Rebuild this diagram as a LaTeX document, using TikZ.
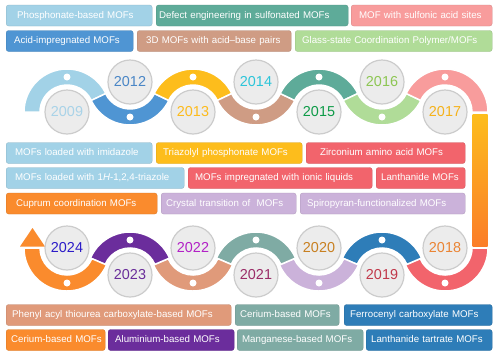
\documentclass[tikz,border=0pt]{standalone}
\usepackage{fontspec}
\setmainfont{Liberation Sans}
\usetikzlibrary{shapes,arrows}

% ring / box colours
\definecolor{c09}{HTML}{A2D2E7}
\definecolor{c12}{HTML}{4F95D3}
\definecolor{c13}{HTML}{FDBD1C}
\definecolor{c14}{HTML}{CF9C84}
\definecolor{c15}{HTML}{5EAB99}
\definecolor{c16}{HTML}{B0DC98}
\definecolor{c17}{HTML}{F89C9C}
\definecolor{c18}{HTML}{F2646C}
\definecolor{c19}{HTML}{2E7DB8}
\definecolor{c20}{HTML}{CBB2DA}
\definecolor{c21}{HTML}{7FABA4}
\definecolor{c22}{HTML}{E09A7A}
\definecolor{c23}{HTML}{6B2D9C}
\definecolor{c24}{HTML}{FA8B2D}
% year text colours
\definecolor{t09}{HTML}{A9D3E8}
\definecolor{t12}{HTML}{4A86C6}
\definecolor{t13}{HTML}{FDBB1C}
\definecolor{t14}{HTML}{2CC5D9}
\definecolor{t15}{HTML}{0E9B48}
\definecolor{t16}{HTML}{8DC653}
\definecolor{t17}{HTML}{F5B21B}
\definecolor{t18}{HTML}{EA8434}
\definecolor{t19}{HTML}{C1394B}
\definecolor{t20}{HTML}{C88021}
\definecolor{t21}{HTML}{9B2D68}
\definecolor{t22}{HTML}{B221C6}
\definecolor{t23}{HTML}{6A2E9A}
\definecolor{t24}{HTML}{2C1CC8}

\newcommand{\boxfont}{\fontsize{9.7}{11}\selectfont}
\newcommand{\yearfont}{\fontsize{14.4}{16}\selectfont}

\begin{document}
\begin{tikzpicture}[x=1pt,y=1pt,
    box/.style n args={3}{anchor=west, rounded corners=2.5pt, fill=#1, draw=#1!85!black,
        line width=0.3pt, text=white, font=\boxfont, inner xsep=0pt, inner ysep=0pt,
        text width=#3, minimum height=21pt, align=left, text height=7pt, text depth=2pt,
        execute at begin node={\hspace*{#2}}},
    year/.style={circle, fill=gray!15, draw=gray!40, line width=1.2pt,
        minimum size=44pt, inner sep=0pt, font=\yearfont},
    ring/.style={draw=white, line width=1.5pt}]

    % Frame:
    \useasboundingbox[fill=white] (0,0) rectangle (500,-362);

    % Labels, top two rows:
    \node[box={c09}{11pt}{146pt}] (phos)     at (6,-15.5)   {Phosphonate-based MOFs};
    \node[box={c15}{3pt}{192pt}]  (defect)   at (156,-15.5) {Defect engineering in sulfonated MOFs};
    \node[box={c17}{8pt}{141pt}]  (sulfo)    at (351,-15.5) {MOF with sulfonic acid sites};
    \node[box={c12}{8pt}{127pt}]  (acidimp)  at (6,-41)     {Acid-impregnated MOFs};
    \node[box={c14}{9pt}{154pt}]  (acidbase) at (137,-41)   {3D MOFs with acid--base pairs};
    \node[box={c16}{7pt}{197pt}]  (glass)    at (295,-41)   {Glass-state Coordination Polymer/MOFs};

    % Labels, middle rows:
    \node[box={c09}{9pt}{146pt}]  (imid)      at (6,-153)   {MOFs loaded with imidazole};
    \node[box={c13}{7pt}{146pt}]  (triazolyl) at (156,-153) {Triazolyl phosphonate MOFs};
    \node[box={c18}{14pt}{159pt}] (zirc)      at (306,-153) {Zirconium amino acid MOFs};
    \node[box={c09}{9pt}{178pt}]  (triaz)     at (6,-178)   {MOFs loaded with 1\textit{H}-1,2,4-triazole};
    \node[box={c18}{7pt}{184pt}]  (ionic)     at (188,-178) {MOFs impregnated with ionic liquids};
    \node[box={c18}{5pt}{89pt}]   (lanth)     at (376,-178) {Lanthanide MOFs};
    \node[box={c24}{10pt}{151pt}] (cuprum)    at (6,-203.5) {Cuprum coordination MOFs};
    \node[box={c20}{5pt}{135pt}]  (cryst)     at (161,-203.5) {Crystal transition of~ MOFs};
    \node[box={c20}{7pt}{165pt}]  (spiro)     at (300,-203.5) {Spiropyran-functionalized MOFs};

    % Labels, bottom rows:
    \node[box={c22}{6pt}{225pt}]  (phenyl)   at (6,-315)   {Phenyl acyl thiourea carboxylate-based MOFs};
    \node[box={c21}{5pt}{104pt}]  (ceriumA)  at (235,-315) {Cerium-based MOFs};
    \node[box={c19}{6pt}{148pt}]  (ferro)    at (344,-315) {Ferrocenyl carboxylate MOFs};
    \node[box={c24}{5pt}{99pt}]   (ceriumB)  at (6,-340)   {Cerium-based MOFs};
    \node[box={c23}{7pt}{126pt}]  (alum)     at (108,-340) {Aluminium-based MOFs};
    \node[box={c21}{5pt}{126pt}]  (mangan)   at (237,-340) {Manganese-based MOFs};
    \node[box={c19}{5pt}{126pt}]  (tartrate) at (366,-340) {Lanthanide tartrate MOFs};

    % Wave of half rings, with a white dot on each:
    \foreach \cx/\cy/\sa/\ea/\col/\dy in {
        67/-112/180/25.46/c09/35, 130/-82/205.46/334.54/c12/-35,
        193/-112/154.54/25.46/c13/35, 256/-82/205.46/334.54/c14/-35,
        319/-112/154.54/25.46/c15/35, 382/-82/205.46/334.54/c16/-35,
        445/-112/154.54/0/c17/35,
        445/-248/0/-156.8/c18/-35, 382/-275/23.2/156.8/c19/35,
        319/-248/-23.2/-156.8/c20/-35, 256/-275/23.2/156.8/c21/35,
        193/-248/-23.2/-156.8/c22/-35, 130/-275/23.2/156.8/c23/35,
        67/-248/-23.2/-180/c24/-35}{%
        \filldraw[ring, fill=\col] (\cx,\cy) ++(\sa:43)
            arc[start angle=\sa, end angle=\ea, radius=43] -- ++(\ea:-16)
            arc[start angle=\ea, end angle=\sa, radius=27] -- cycle;
        \fill[white] (\cx,\cy+\dy) circle (3.5);}

    % Bar joining 2017 and 2018:
    \shade[top color=c13, bottom color=c24!90!red] (472.5,-114) rectangle (487.5,-246);

    % Arrow head at the end of 2024:
    \fill[c24] (20,-246.5) -- (45,-246.5) -- (32.5,-228) -- cycle;

    % Year discs:
    \foreach \yr/\cx/\cy/\col in {2009/67/-112/t09, 2012/130/-82/t12, 2013/193/-112/t13,
        2014/256/-82/t14, 2015/319/-112/t15, 2016/382/-82/t16, 2017/445/-112/t17,
        2018/445/-248/t18, 2019/382/-275/t19, 2020/319/-248/t20, 2021/256/-275/t21,
        2022/193/-248/t22, 2023/130/-275/t23, 2024/67/-248/t24}{%
        \node[year, text=\col] (y\yr) at (\cx,\cy) {\yr};}
\end{tikzpicture}
\end{document}
